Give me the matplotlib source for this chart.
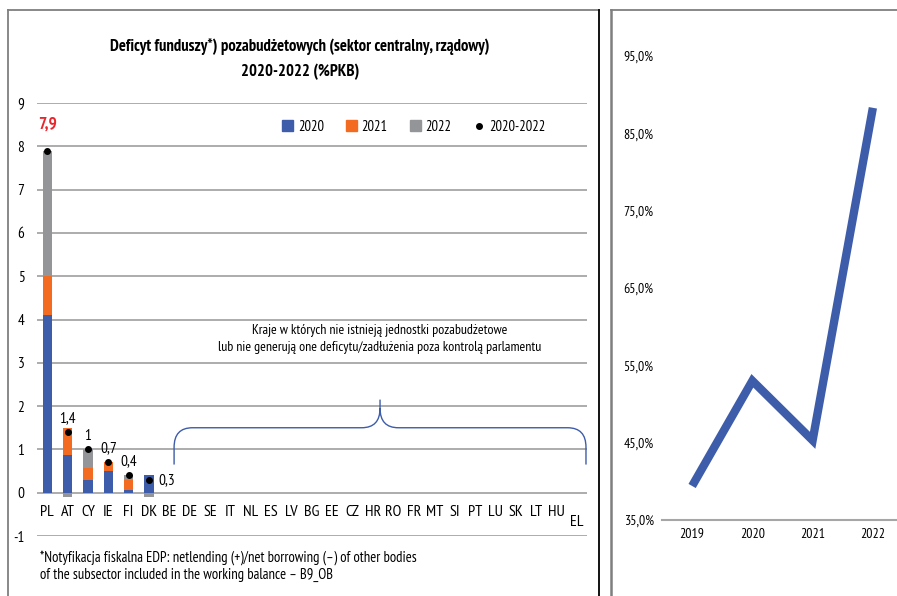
import matplotlib
matplotlib.use("Agg")
import matplotlib.pyplot as plt
import numpy as np
from matplotlib.lines import Line2D
from matplotlib.patches import Patch, PathPatch
from matplotlib.path import Path
from matplotlib.transforms import ScaledTranslation

plt.rcParams['font.family'] = ['PT Sans Narrow', 'DejaVu Sans']
plt.rcParams['axes.unicode_minus'] = False

# left chart data
countries = ['PL', 'AT', 'CY', 'IE', 'FI', 'DK', 'BE', 'DE', 'SE', 'IT', 'NL', 'ES', 'LV', 'BG',
             'EE', 'CZ', 'HR', 'RO', 'FR', 'MT', 'SI', 'PT', 'LU', 'SK', 'LT', 'HU', 'EL']
v2020 = [4.1, 0.87, 0.3, 0.5, 0.07, 0.4, 0, 0, 0, 0, 0, 0, 0, 0, 0, 0, 0, 0, 0, 0, 0, 0, 0, 0, 0, 0, 0]
v2021 = [0.9, 0.63, 0.28, 0.2, 0.23, 0, 0, 0, 0, 0, 0, 0, 0, 0, 0, 0, 0, 0, 0, 0, 0, 0, 0, 0, 0, 0, 0]
v2022 = [2.9, -0.1, 0.42, 0, 0.1, -0.1, 0, 0, 0, 0, 0, 0, 0, 0, 0, 0, 0, 0, 0, 0, 0, 0, 0, 0, 0, 0, 0]
total = [7.9, 1.4, 1.0, 0.7, 0.4, 0.3]
total_lbl = ['7,9', '1,4', '1', '0,7', '0,4', '0,3']

# right chart data
years = ['2019', '2020', '2021', '2022']
share = [39.4, 53.0, 45.3, 88.3]

BLUE = '#3D5CA9'
ORANGE = '#F26B21'
GRAY = '#939598'
GRID = '#A6A6A6'

fig = plt.figure(figsize=(8.97, 5.96), dpi=100)

ax = fig.add_axes([37 / 897, 1 - 536 / 596, 550 / 897, 433 / 596])
x = np.arange(len(countries))
w = 0.45
pos_base = np.zeros(len(countries))
neg_base = np.zeros(len(countries))
for vals, col in [(v2020, BLUE), (v2021, ORANGE), (v2022, GRAY)]:
    vals = np.array(vals)
    bottoms = np.where(vals >= 0, pos_base, neg_base)
    ax.bar(x, vals, w, bottom=bottoms, color=col, zorder=3)
    pos_base = pos_base + np.where(vals > 0, vals, 0)
    neg_base = neg_base + np.where(vals < 0, vals, 0)

xt = np.arange(len(total))
ax.plot(xt, total, 'o', color='black', ms=4, zorder=4)
for i, (t, l) in enumerate(zip(total, total_lbl)):
    if i == 0:
        ax.text(i, t + 0.6, l, color='#E8262C', fontsize=12.5, fontweight='bold', ha='center', va='center')
    elif i == len(total) - 1:
        ax.text(i + 0.45, t, l, fontsize=11, ha='left', va='center')
    else:
        ax.text(i, t + 0.32, l, fontsize=11, ha='center', va='center')

ax.set_xlim(-0.5, len(countries) - 0.5)
ax.set_ylim(-1, 9)
ax.set_yticks(range(-1, 10))
ax.yaxis.grid(True, color=GRID, lw=1.3, zorder=0)
for s in ax.spines.values():
    s.set_visible(False)
ax.spines['bottom'].set_position(('data', 0))
ax.set_xticks(x)
ax.set_xticklabels(countries)
ax.tick_params(axis='x', length=0, pad=9, labelsize=11.5)
ax.tick_params(axis='y', length=0, pad=9, labelsize=11)
el = ax.get_xticklabels()[-1]
el.set_transform(el.get_transform() + ScaledTranslation(0, -7 / 72, fig.dpi_scale_trans))

# brace over the countries without units
bx0, bx1, bxm = 6.23, 26.45, 16.34
ytop, yend, ytip = 1.5, 0.65, 2.15
rx, ry = 0.9, 0.45
verts = [(bx0, yend), (bx0, ytop - ry), (bx0, ytop), (bx0 + rx, ytop),
         (bxm - rx, ytop), (bxm, ytop), (bxm, ytop + ry), (bxm, ytip),
         (bxm, ytop + ry), (bxm, ytop), (bxm + rx, ytop),
         (bx1 - rx, ytop), (bx1, ytop), (bx1, ytop - ry), (bx1, yend)]
codes = [Path.MOVETO, Path.LINETO, Path.CURVE3, Path.CURVE3,
         Path.LINETO, Path.CURVE3, Path.CURVE3, Path.LINETO,
         Path.MOVETO, Path.CURVE3, Path.CURVE3,
         Path.LINETO, Path.CURVE3, Path.CURVE3, Path.LINETO]
ax.add_patch(PathPatch(Path(verts, codes), fill=False, edgecolor=BLUE, lw=1, zorder=3))
ax.text(bxm, 3.55, 'Kraje w których nie istnieją jednostki pozabudżetowe\n'
        'lub nie generują one deficytu/zadłużenia poza kontrolą parlamentu',
        ha='center', va='center', fontsize=10, linespacing=1.35)

handles = [Patch(color=BLUE), Patch(color=ORANGE), Patch(color=GRAY),
           Line2D([], [], marker='o', color='black', ls='none', ms=4)]
ax.legend(handles, ['2020', '2021', '2022', '2020-2022'], ncol=4, loc='center',
          bbox_to_anchor=(0.685, 0.945), frameon=False, fontsize=10.5,
          handlelength=0.75, handleheight=0.75, handletextpad=0.35, columnspacing=1.5)

fig.text(300 / 897, 1 - 47 / 596, 'Deficyt funduszy*) pozabudżetowych (sektor centralny, rządowy)',
         ha='center', va='center', fontsize=12, fontweight='bold')
fig.text(300 / 897, 1 - 72 / 596, '2020-2022 (%PKB)', ha='center', va='center',
         fontsize=12, fontweight='bold')
fig.text(40 / 897, 1 - 566 / 596, '*Notyfikacja fiskalna EDP: netlending (+)/net borrowing (–) of other bodies\n'
         'of the subsector included in the working balance – B9_OB',
         ha='left', va='center', fontsize=10.5, linespacing=1.3)

# right chart
ax2 = fig.add_axes([662 / 897, 1 - 520 / 596, 241 / 897, 464 / 596])
ax2.plot(range(len(years)), share, color=BLUE, lw=6, solid_joinstyle='miter', solid_capstyle='butt')
ax2.set_xlim(-0.5, len(years) - 0.5)
ax2.set_ylim(35, 95)
ax2.set_yticks(range(35, 96, 10))
ax2.set_yticklabels(['%d,0%%' % v for v in range(35, 96, 10)])
ax2.set_xticks(range(len(years)))
ax2.set_xticklabels(years)
for s in ax2.spines.values():
    s.set_visible(False)
ax2.spines['bottom'].set_visible(True)
ax2.spines['bottom'].set_color(GRID)
ax2.spines['bottom'].set_linewidth(1.5)
ax2.tick_params(axis='both', length=0, labelsize=10)
ax2.tick_params(axis='y', pad=6)
ax2.tick_params(axis='x', pad=6)

# panel borders
fig.add_artist(Line2D([8 / 897, 8 / 897], [0, 1 - 10 / 596], color='#7F7F7F', lw=1.3))
fig.add_artist(Line2D([8 / 897, 599 / 897], [1 - 10 / 596, 1 - 10 / 596], color='#7F7F7F', lw=1.3))
fig.add_artist(Line2D([599 / 897, 599 / 897], [0, 1 - 10 / 596], color='black', lw=1.3))
fig.add_artist(Line2D([611 / 897, 611 / 897], [0, 1 - 10 / 596], color='#7F7F7F', lw=1.8))
fig.add_artist(Line2D([611 / 897, 1], [1 - 10 / 596, 1 - 10 / 596], color='#7F7F7F', lw=1.3))

fig.savefig('out.png', dpi=100)
